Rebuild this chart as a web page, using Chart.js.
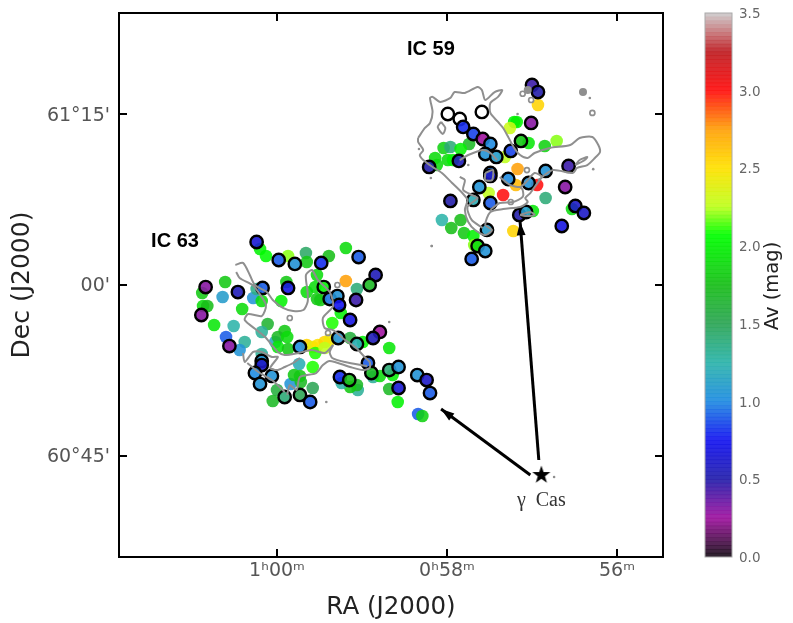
<!DOCTYPE html>
<html>
<head>
<meta charset="utf-8">
<style>
  html, body { margin: 0; padding: 0; background: #fff; }
  #wrap { position: relative; width: 793px; height: 623px; overflow: hidden; }
  canvas { position: absolute; top: 0; }
  #grafica { left: 0; }
  #barra { left: 690px; }
</style>
<script src="https://cdn.jsdelivr.net/npm/chart.js@4/dist/chart.umd.min.js"></script>
</head>
<body>
<div id="wrap">
  <canvas id="grafica" width="793" height="623"></canvas>
  <canvas id="barra" width="103" height="623"></canvas>
</div>
<script>
// RA in minutes of time (60 = 1h00m), Dec in arcmin from 61d00'
const plainRa = [56.93,57.21,57.18,57.26,57.04,56.85,56.71,57.74,58.04,57.96,57.84,58.14,58.12,57.99,57.93,57.17,57.32,56.94,57.19,57.34,57.51,56.84,56.99,56.53,58.06,57.95,57.84,57.80,57.69,57.68,57.22,
  60.20,60.13,59.87,59.66,59.65,60.61,60.88,60.64,60.87,60.82,60.28,60.24,60.18,59.95,59.89,59.65,59.53,60.41,60.74,60.51,60.60,60.38,60.44,60.11,60.18,60.02,59.91,59.99,59.88,59.99,59.87,60.18,60.00,60.05,59.74,59.84,59.80,59.72,59.58,59.58,59.65,59.58,59.52,59.55,
  59.39,59.19,59.19,59.06,59.53,59.55,59.49,59.25,59.35,59.14,58.99,58.68,58.87,59.05,59.06,59.14,59.24,58.79,58.64,58.68,58.58,58.34,58.29,59.44,59.38,59.44,59.73];
const plainDec = [15.83,14.34,14.34,13.81,12.49,12.23,12.67,12.40,12.05,12.14,11.96,11.17,10.55,10.99,10.99,10.20,11.26,8.80,8.80,7.92,8.09,7.65,6.51,6.68,5.72,5.01,5.72,4.57,4.31,3.52,4.75,
  3.17,2.55,2.55,2.82,2.02,0.26,-0.70,-1.06,-1.85,-1.85,-1.14,-0.35,-1.41,-1.41,0.26,-0.62,-1.23,-2.11,-3.52,-3.61,-4.57,-5.01,-5.72,-3.43,-4.13,-5.01,-4.05,-4.57,-4.57,-5.45,-5.63,-6.07,-9.23,-10.20,-6.95,-8.71,-7.92,-8.53,-7.21,-9.06,-5.28,-5.45,-5.28,-5.98,
  2.55,3.25,0.35,-0.35,0.88,-0.18,-1.32,-2.46,-3.34,-4.66,-5.01,-5.54,-8.09,-9.23,-8.80,-8.97,-8.62,-8.00,-7.92,-9.15,-10.29,-11.35,-11.52,-5.01,-4.84,-5.54,-8.00];
const plainAv = [2.55,2.0,2.0,2.3,1.95,1.85,2.2,1.7,1.85,1.4,2.0,1.9,1.9,1.9,2.0,2.75,2.25,3.0,2.65,3.0,2.25,1.4,1.95,1.9,1.25,1.75,1.75,1.8,2.0,2.2,2.55,
  2.0,2.05,2.2,1.45,1.8,1.8,1.8,1.1,1.9,1.75,1.05,1.35,1.9,2.0,1.8,1.9,1.8,1.9,1.95,1.25,0.9,1.3,1.05,1.65,1.3,1.15,1.8,1.7,1.9,1.95,1.8,1.3,1.6,1.7,1.2,1.05,1.8,1.7,2.1,1.5,2.55,2.4,2.5,2.1,
  1.75,1.9,2.75,1.4,1.9,1.9,1.8,2.0,2.1,1.6,2.0,1.95,1.3,1.3,1.7,1.8,1.25,1.9,2.0,1.7,2.0,0.9,1.85,2.55,2.45,2.25,1.8];

// stars with a black ring, null Av = no measured extinction (open circle)
const ringRa = [57.00,56.93,57.01,57.99,57.59,57.85,57.81,57.69,57.58,57.49,57.55,57.42,57.25,57.13,58.21,57.86,57.49,57.49,57.28,57.04,56.84,56.57,56.61,57.62,57.69,57.49,57.96,56.49,56.39,56.65,57.15,57.07,57.53,57.64,57.55,57.71,
  60.24,59.98,59.79,59.48,60.84,60.46,60.17,59.87,60.89,60.56,59.73,60.18,60.18,60.26,60.06,60.20,59.91,59.73,59.61,
  59.04,58.84,59.45,58.91,59.38,59.29,59.27,59.07,59.14,58.79,58.87,59.28,59.06,58.93,58.89,58.68,58.57,59.26,59.15,58.35,58.24,58.57,58.20];
const ringDec = [17.59,16.97,14.25,15.04,15.22,14.60,13.90,13.28,12.84,12.40,11.52,11.26,11.79,12.67,10.38,10.91,9.85,9.59,9.32,8.97,10.03,10.47,8.62,8.62,7.48,7.21,7.39,6.95,6.33,5.19,6.16,6.42,4.84,3.43,2.99,2.29,
  3.78,2.20,1.85,1.94,-0.18,-0.62,-0.26,-0.26,-2.64,-5.37,-5.45,-6.68,-7.04,-7.74,-8.00,-8.71,-9.85,-9.67,-10.29,
  2.46,0.88,-0.18,0.00,-1.23,-0.97,-1.76,-1.32,-3.08,-4.13,-4.66,-4.66,-5.19,-6.86,-7.74,-7.48,-7.21,-8.09,-8.36,-7.92,-8.36,-9.06,-9.50];
const ringAv = [0.45,0.5,0.3,null,null,null,0.8,0.85,0.25,1.0,1.05,1.1,0.85,1.8,0.5,0.55,0.95,0.6,1.0,1.05,1.05,0.45,0.3,1.05,1.2,0.9,0.5,0.6,0.6,0.7,0.5,1.1,1.1,1.9,1.05,0.9,
  0.65,0.9,1.05,0.8,0.3,0.55,0.9,0.7,0.3,0.3,1.0,1.05,0.6,1.0,1.05,1.05,1.4,1.5,0.9,
  0.9,0.55,2.0,1.7,0.95,1.05,0.75,0.45,0.7,0.25,0.55,1.05,1.2,0.9,1.7,1.4,1.05,0.8,1.75,1.05,0.6,0.65,0.9];

// molecular cloud contours
const contourIC59 = [[58.34,12.93],[58.26,13.81],[58.20,14.25],[58.17,15.22],[58.20,16.45],[58.17,16.54],[58.08,16.10],[57.96,16.45],[57.91,16.97],[57.79,16.89],[57.64,17.41],[57.59,17.15],[57.55,16.27],[57.44,16.97],[57.35,17.15],[57.40,16.54],[57.49,16.01],[57.49,15.13],[57.40,14.34],[57.34,13.81],[57.28,13.02],[57.21,12.05],[57.14,11.43],[57.05,11.17],[56.97,11.61],[56.79,12.05],[56.55,12.31],[56.44,12.93],[56.29,13.02],[56.22,12.31],[56.20,11.70],[56.26,11.17],[56.35,10.55],[56.47,10.29],[56.52,9.85],[56.75,10.11],[56.88,9.50],[57.02,8.09],[57.08,7.65],[57.05,7.30],[57.14,6.86],[57.34,6.68],[57.49,6.42],[57.55,5.28],[57.47,4.84],[57.55,4.40],[57.67,4.84],[57.75,5.54],[57.79,6.60],[57.76,7.48],[57.82,8.09],[57.94,8.97],[58.06,9.85],[58.17,10.38],[58.28,10.99],[58.32,11.43],[58.28,11.87],[58.34,12.58],[58.34,12.93]];
const contourIC59a = [[57.85,10.99],[57.75,11.43],[57.58,11.87],[57.49,11.61],[57.41,10.99]];
const contourIC59b = [[57.85,9.50],[57.79,9.23],[57.81,8.36],[57.71,7.92],[57.64,7.65],[57.76,6.86],[57.71,5.72],[57.58,5.01]];
const contourIC59c = [[57.55,9.85],[57.46,10.11],[57.47,9.23],[57.55,9.23],[57.55,9.85]];
const contourIC59d = [[57.38,9.50],[57.26,8.80],[57.14,8.62],[57.08,8.97],[56.97,9.85],[56.88,9.50],[56.93,9.23]];
const contourIC59e = [[57.49,6.60],[57.38,7.21],[57.22,7.30],[57.11,7.74],[57.11,8.36],[57.14,8.62]];
const contourIC59f = [[56.49,10.55],[56.38,10.99],[56.35,11.26],[56.44,10.99],[56.49,10.55]];
const contourIC59g = [[57.14,6.16],[57.02,6.42],[56.97,6.16],[57.08,6.07],[57.14,6.16]];
const contourIC59h = [[58.07,14.34],[58.02,13.81],[58.05,13.28],[58.11,13.90],[58.07,14.34]];
const contourIC63 = [[60.49,1.76],[60.40,1.94],[60.32,0.88],[60.26,0.00],[60.12,-0.62],[60.05,-1.32],[59.93,-2.02],[59.81,-2.29],[59.69,-2.20],[59.64,-1.50],[59.64,-0.62],[59.66,0.88],[59.59,1.32],[59.52,0.44],[59.38,-0.62],[59.34,-1.85],[59.46,-2.90],[59.44,-3.78],[59.34,-3.96],[59.20,-4.84],[59.08,-5.45],[58.97,-6.33],[58.91,-6.77],[58.91,-7.30],[58.99,-7.48],[59.14,-7.21],[59.38,-6.68],[59.46,-7.04],[59.54,-7.74],[59.73,-8.09],[59.77,-9.23],[59.85,-8.80],[59.88,-9.67]];
const contourIC63a = [[60.48,1.14],[60.44,0.62],[60.29,0],[60.22,-0.62],[60.13,-1.76],[60.18,-2.73],[60.34,-2.55],[60.38,-3.08],[60.24,-3.96],[60.14,-4.57],[60.06,-5.28],[59.99,-5.89],[59.91,-6.16],[59.75,-5.98],[59.59,-5.72],[59.44,-5.98],[59.34,-5.28]];
const contourIC63b = [[60.40,-5.98],[60.38,-6.77],[60.28,-5.89],[60.18,-5.89],[60.06,-6.33],[59.99,-6.33],[60.08,-7.30],[60.00,-7.48],[59.91,-7.21],[59.81,-6.86],[59.73,-6.42]];
const contourIC63c = [[60.35,-6.86],[60.22,-7.65],[60.06,-8.36],[59.91,-9.41]];
const contourIC63d = [[59.34,-5.28],[59.38,-5.89],[59.35,-6.42],[59.20,-6.77],[58.94,-7.12]];
const contours = [contourIC59,contourIC59a,contourIC59b,contourIC59c,contourIC59d,contourIC59e,contourIC59f,contourIC59g,contourIC59h,contourIC63,contourIC63a,contourIC63b,contourIC63c,contourIC63d];

// little contour islands
const blobs = [[56.40,16.97],[57.05,17.15]];
const rings = [[57.11,16.82],[57.01,16.27],[56.29,15.13],[57.06,10.11],[57.25,7.30],[59.29,0.00],[59.40,-4.22],[59.85,-2.90]];
const specks = [[56.32,16.44],[57.17,15.04],[58.18,3.43],[58.19,9.41],[58.33,11.96],[56.28,10.19],[57.75,10.55],[59.42,-10.29],[58.68,-3.25],[58.18,3.43],[56.74,-16.89]];

const starPos = [[56.89,-16.71]];
const arrowToIC63 = [[57.02,-16.71],[58.07,-10.91]];
const arrowToIC59 = [[56.92,-15.39],[57.14,5.54]];

const textos = ['IC 59','IC 63','\u03b3\u2002Cas'];
const textosRa = [58.19,61.20,56.89];
const textosDec = [20.67,3.87,-19.00];

const raTicks = [60,58,56];
const raEtiquetas = ['1\u02b000\u1d50','0\u02b058\u1d50','56\u1d50'];
const decTicks = [15,0,-15];
const decEtiquetas = ["61\u00b015'","00'","60\u00b045'"];
const barraTicks = [0,0.5,1,1.5,2,2.5,3,3.5];

// colour stops of the Av bar
const mapaAv = [0,0.25,0.5,0.75,1,1.25,1.5,1.75,2.07,2.25,2.5,2.75,3,3.25,3.5];
const mapaColor = [[25,15,25],[160,20,160],[35,30,170],[20,20,240],[32,140,225],[45,180,170],[45,165,85],[25,190,25],[0,255,0],[190,255,30],[255,225,0],[255,160,10],[255,15,15],[190,30,35],[205,205,205]];

function colorAv(av, alfa) {
    if (av === null) return 'rgba(0,0,0,0)';
    let i = 0;
    while (i < mapaAv.length - 2 && av > mapaAv[i + 1]) i++;
    const t = (av - mapaAv[i]) / (mapaAv[i + 1] - mapaAv[i]);
    const c = mapaColor[i].map((v, k) => Math.round(v + (mapaColor[i + 1][k] - v) * t));
    return `rgba(${c[0]},${c[1]},${c[2]},${alfa})`;
}

function aPuntos(ra, dec) {
    return ra.map((r, i) => ({ x: r, y: dec[i] }));
}

function aXY(lista) {
    return lista.map(p => ({ x: p[0], y: p[1] }));
}

const estrella = document.createElement('canvas');
estrella.width = 22;
estrella.height = 22;
const ctxE = estrella.getContext('2d');
ctxE.beginPath();
for (let i = 0; i < 10; i++) {
    const r = i % 2 === 0 ? 9.5 : 3.8;
    const a = -Math.PI / 2 + i * Math.PI / 5;
    ctxE.lineTo(11 + r * Math.cos(a), 11 + r * Math.sin(a));
}
ctxE.closePath();
ctxE.fill();

const xRango = { type: 'linear', reverse: true, min: 55.459, max: 61.859 };
const yRango = { type: 'linear', min: -23.92, max: 23.92 };
const marcas = { color: '#000', lineWidth: 2, tickLength: -8, drawOnChartArea: false };
const borde = { display: true, color: '#000', width: 2 };

// keep the plot box fixed, whatever room the tick labels ask for
function fijarCaja(s, tam) {
    if (s.isHorizontal()) s.height = tam; else s.width = tam;
    s.paddingTop = 0;
    s.paddingBottom = 0;
    s.paddingLeft = 0;
    s.paddingRight = 0;
}

// vertical axis labels sit a bit high with middle baseline
const bajarEtiquetas = {
    id: 'bajarEtiquetas',
    beforeDraw(chart) {
        const sy = chart.scales.y;
        sy.getLabelItems(chart.chartArea).forEach(it => { it.textOffset += 1.5; });
    }
};

const anotaciones = {
    id: 'anotaciones',
    afterDatasetsDraw(chart) {
        const ctx = chart.ctx;
        const sx = chart.scales.x;
        const sy = chart.scales.y;
        ctx.save();
        [arrowToIC63, arrowToIC59].forEach(fl => {
            const x0 = sx.getPixelForValue(fl[0][0]);
            const y0 = sy.getPixelForValue(fl[0][1]);
            const x1 = sx.getPixelForValue(fl[1][0]);
            const y1 = sy.getPixelForValue(fl[1][1]);
            const a = Math.atan2(y1 - y0, x1 - x0);
            ctx.beginPath();
            ctx.moveTo(x1, y1);
            ctx.lineTo(x1 - 14 * Math.cos(a - 0.32), y1 - 14 * Math.sin(a - 0.32));
            ctx.lineTo(x1 - 14 * Math.cos(a + 0.32), y1 - 14 * Math.sin(a + 0.32));
            ctx.closePath();
            ctx.fillStyle = '#000';
            ctx.fill();
        });
        ctx.textAlign = 'center';
        ctx.textBaseline = 'middle';
        textos.forEach((t, i) => {
            ctx.font = i < 2 ? 'bold 20px "Liberation Sans"' : '20px "Liberation Serif"';
            ctx.fillStyle = i < 2 ? '#000' : '#333';
            ctx.fillText(t, sx.getPixelForValue(textosRa[i]), sy.getPixelForValue(textosDec[i]));
        });
        ctx.restore();
    }
};

function lineaContorno(lista) {
    return {
        data: aXY(lista),
        showLine: true,
        borderColor: '#8f8f8f',
        borderWidth: 2,
        tension: 0.25,
        pointRadius: 0,
        order: 1
    };
}

function flecha(lista) {
    return {
        data: aXY(lista),
        showLine: true,
        borderColor: '#000',
        borderWidth: 3,
        pointRadius: 0,
        order: 0
    };
}

new Chart(document.getElementById('grafica').getContext('2d'), {
    type: 'scatter',
    data: {
        datasets: [
            ...contours.map(lineaContorno),
            flecha(arrowToIC63),
            flecha(arrowToIC59),
            { data: aXY(starPos), pointStyle: estrella, order: 0 },
            { data: aXY(blobs), pointRadius: 4, pointBackgroundColor: '#8f8f8f', pointBorderWidth: 0, order: 1 },
            { data: aXY(rings), pointRadius: 2.5, pointBackgroundColor: 'rgba(0,0,0,0)', pointBorderColor: '#8f8f8f', pointBorderWidth: 1.7, order: 1 },
            { data: aXY(specks), pointRadius: 1.3, pointBackgroundColor: '#8f8f8f', pointBorderWidth: 0, order: 1 },
            {
                data: aPuntos(ringRa, ringDec),
                pointRadius: 6.2,
                pointBorderWidth: 2.4,
                pointBorderColor: '#000',
                pointBackgroundColor: ringAv.map(v => colorAv(v, 0.9)),
                order: 2
            },
            {
                data: aPuntos(plainRa, plainDec),
                pointRadius: 6.3,
                pointBorderWidth: 0,
                pointBackgroundColor: plainAv.map(v => colorAv(v, 0.88)),
                order: 3
            }
        ]
    },
    options: {
        responsive: false,
        animation: false,
        devicePixelRatio: 1,
        layout: { padding: 0 },
        plugins: { legend: { display: false }, tooltip: { enabled: false } },
        scales: {
            x: {
                ...xRango,
                position: 'bottom',
                grid: marcas,
                border: borde,
                afterBuildTicks: s => { s.ticks = raTicks.map(v => ({ value: v })); },
                afterFit: s => fijarCaja(s, 66),
                ticks: {
                    padding: 11,
                    maxRotation: 0,
                    autoSkip: false,
                    color: '#555',
                    font: { family: 'DejaVu Sans', size: 19 },
                    callback: v => raEtiquetas[raTicks.indexOf(v)]
                },
                title: {
                    display: true,
                    text: 'RA (J2000)',
                    color: '#222',
                    font: { family: 'DejaVu Sans', size: 24.5 },
                    padding: { top: 0, bottom: 1 }
                }
            },
            x2: {
                ...xRango,
                axis: 'x',
                position: 'top',
                grid: marcas,
                border: borde,
                afterBuildTicks: s => { s.ticks = raTicks.map(v => ({ value: v })); },
                afterFit: s => fijarCaja(s, 13),
                ticks: { display: false }
            },
            y: {
                ...yRango,
                position: 'left',
                grid: marcas,
                border: borde,
                afterBuildTicks: s => { s.ticks = decTicks.map(v => ({ value: v })); },
                afterFit: s => fijarCaja(s, 119),
                ticks: {
                    padding: 17,
                    autoSkip: false,
                    color: '#555',
                    font: { family: 'DejaVu Sans', size: 19 },
                    callback: v => decEtiquetas[decTicks.indexOf(v)]
                },
                title: {
                    display: true,
                    text: 'Dec (J2000)',
                    color: '#222',
                    font: { family: 'DejaVu Sans', size: 25 },
                    padding: { top: 7, bottom: 0 }
                }
            },
            y2: {
                ...yRango,
                axis: 'y',
                position: 'right',
                grid: marcas,
                border: borde,
                afterBuildTicks: s => { s.ticks = decTicks.map(v => ({ value: v })); },
                afterFit: s => fijarCaja(s, 130),
                ticks: { display: false }
            }
        }
    },
    plugins: [anotaciones, bajarEtiquetas]
});

// colour bar: stacked thin bands on the Av scale
const pasoBanda = 0.025;
const bandas = [];
for (let i = 0; i < 140; i++) {
    bandas.push({
        data: [pasoBanda],
        backgroundColor: colorAv((i + 0.5) * pasoBanda, 0.92),
        barPercentage: 1,
        categoryPercentage: 1
    });
}

const marcoBarra = {
    id: 'marcoBarra',
    afterDraw(chart) {
        const a = chart.chartArea;
        const ctx = chart.ctx;
        ctx.save();
        ctx.strokeStyle = '#aaa';
        ctx.lineWidth = 1;
        ctx.strokeRect(a.left, a.top, a.right - a.left, a.bottom - a.top);
        // the bar title reads bottom to top
        ctx.translate(83, (a.top + a.bottom) / 2 + 1);
        ctx.rotate(-Math.PI / 2);
        ctx.textAlign = 'center';
        ctx.textBaseline = 'middle';
        ctx.fillStyle = '#222';
        ctx.font = '19.5px "DejaVu Sans"';
        ctx.fillText('Av (mag)', 0, 0);
        ctx.restore();
    }
};

new Chart(document.getElementById('barra').getContext('2d'), {
    type: 'bar',
    data: { labels: ['Av'], datasets: bandas },
    options: {
        responsive: false,
        animation: false,
        devicePixelRatio: 1,
        layout: { padding: { top: 13, bottom: 66, left: 15, right: 0 } },
        plugins: { legend: { display: false }, tooltip: { enabled: false } },
        scales: {
            x: { display: false, stacked: true },
            y: {
                type: 'linear',
                stacked: true,
                min: 0,
                max: 3.5,
                position: 'right',
                grid: { display: false, drawTicks: false },
                border: { display: false },
                afterBuildTicks: s => { s.ticks = barraTicks.map(v => ({ value: v })); },
                afterFit: s => fijarCaja(s, 61),
                ticks: {
                    padding: 7,
                    color: '#666',
                    font: { family: 'DejaVu Sans', size: 13.5 },
                    callback: v => v.toFixed(1)
                }
            }
        }
    },
    plugins: [marcoBarra, bajarEtiquetas]
});
</script>
</body>
</html>
